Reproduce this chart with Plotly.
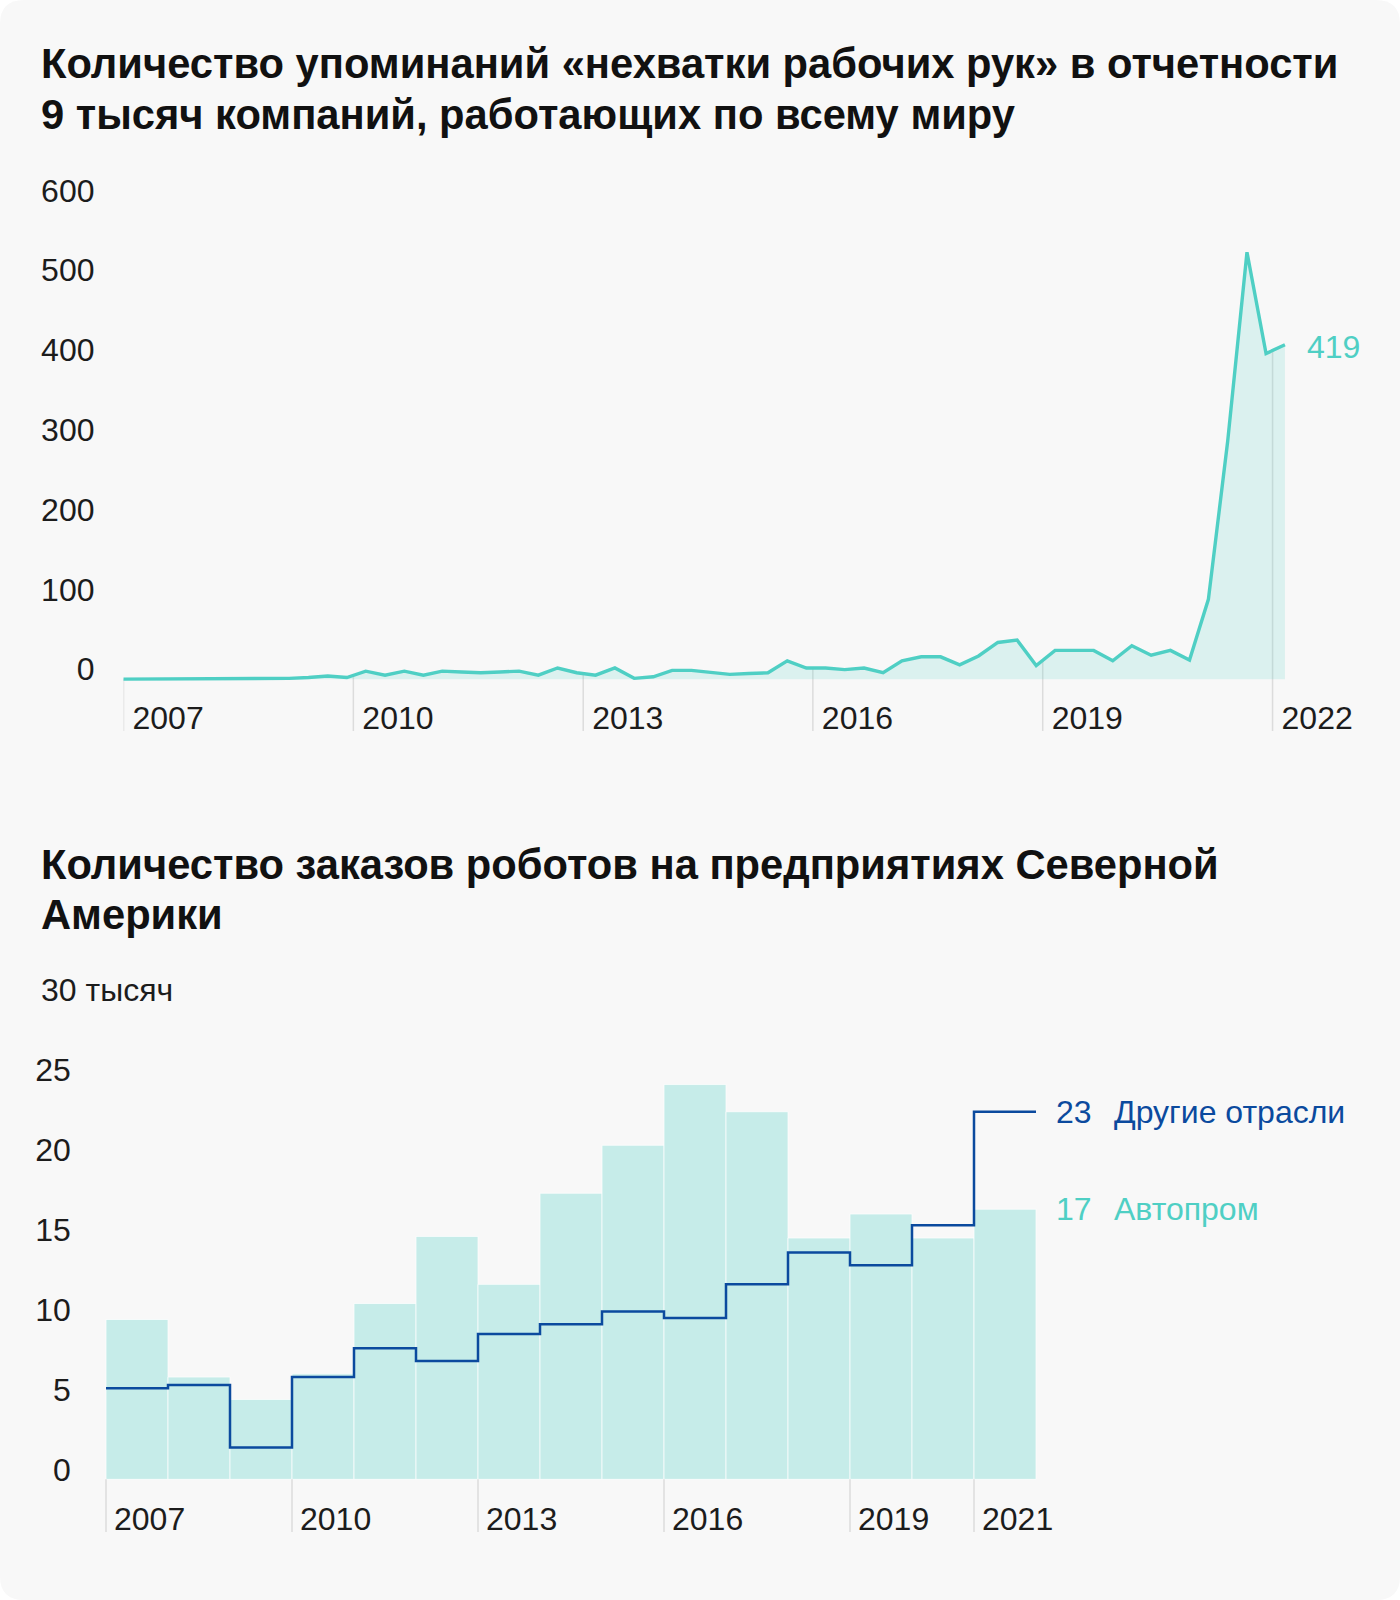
import numpy as np
import pandas as pd
import plotly.graph_objects as go

# ---------------- Data: chart 1 (quarterly mentions) ----------------
q_dates = pd.date_range("2006-12-01", "2022-03-01", freq="3MS")
mentions = [0, 0, 0, 0, 0, 0, 0, 0, 0,
            1, 2, 4, 2, 10, 5, 10, 5, 10, 9, 8, 9, 10, 5, 14, 8, 5, 14, 1, 3,
            11, 11, 9, 6, 7, 8, 23, 14, 14, 12, 14, 8, 23, 28, 28, 18, 29,
            46, 49, 17, 36, 36, 36, 23, 42, 30, 36, 24, 100, 298, 535, 408, 419]
tick_years1 = [2007, 2010, 2013, 2016, 2019, 2022]
yticks1 = [0, 100, 200, 300, 400, 500, 600]

# ---------------- Data: chart 2 (robot orders, thousands) ----------------
years = [2007, 2008, 2009, 2010, 2011, 2012, 2013, 2014, 2015, 2016, 2017, 2018, 2019, 2020, 2021]
auto = [10.0, 6.4, 5.0, 6.6, 11.0, 15.2, 12.2, 17.9, 20.9, 24.7, 23.0, 15.1, 16.6, 15.1, 16.9]
other = [5.7, 5.9, 2.0, 6.4, 8.2, 7.4, 9.1, 9.7, 10.5, 10.1, 12.2, 14.2, 13.4, 15.9, 23.0]
tick_years2 = [2007, 2010, 2013, 2016, 2019, 2021]
yticks2 = [0, 5, 10, 15, 20, 25]

title1 = ["Количество упоминаний «нехватки рабочих рук» в отчетности",
          "9 тысяч компаний, работающих по всему миру"]
title2 = ["Количество заказов роботов на предприятиях Северной", "Америки"]

# ---------------- Style ----------------
W, H = 1400, 1600
BG = "#f8f8f8"
TEAL = "#4fcfc4"
TEAL_FILL = "rgba(79,207,196,0.17)"
BAR = "#c6ece9"
BLUE = "#0b4a9e"
GRID = "#dcdcdc"
TXT = "#1c1c1c"
FONT = "Liberation Sans, Arial, sans-serif"
TICKSIZE = 32

# chart 1: 0.798 px per unit, zero at 679.3 px
YMIN1, YMAX1 = -77.5, 619.2
TICKEND1 = -65          # where the year lines stop below zero
# chart 2: 15.98 px per thousand, zero at 1479.3 px
YMIN2, YMAX2 = -3.92, 30.93
TICKEND2 = -3.3

fig = go.Figure()

# drop lines (chart 1): from line value at each tick year down below the axis
t_num = q_dates.asi8.astype(float)
tick_dates1 = pd.to_datetime([f"{y}-01-01" for y in tick_years1])
vals_at = np.interp(tick_dates1.asi8.astype(float), t_num, mentions)
dx, dy = [], []
for d, v in zip(tick_dates1, vals_at):
    dx += [d, d, None]
    dy += [v, TICKEND1, None]
fig.add_trace(go.Scatter(x=dx, y=dy, mode="lines", line=dict(color=GRID, width=1.5),
                         hoverinfo="skip", showlegend=False, xaxis="x", yaxis="y"))

fig.add_trace(go.Scatter(x=q_dates, y=mentions, mode="lines", fill="tozeroy",
                         fillcolor=TEAL_FILL, line=dict(color=TEAL, width=3.4),
                         showlegend=False, xaxis="x", yaxis="y"))

# chart 2 bars
fig.add_trace(go.Bar(x=years, y=auto, width=1, offset=0,
                     marker=dict(color=BAR, line=dict(color="rgba(255,255,255,0.7)", width=1)),
                     showlegend=False, xaxis="x2", yaxis="y2"))

# tick lines chart 2
tx, ty = [], []
for t in tick_years2:
    tx += [t, t, None]
    ty += [0, TICKEND2, None]
fig.add_trace(go.Scatter(x=tx, y=ty, mode="lines", line=dict(color=GRID, width=1.5),
                         hoverinfo="skip", showlegend=False, xaxis="x2", yaxis="y2"))

# step line
step_x = years + [years[-1] + 1]
step_y = other + [other[-1]]
fig.add_trace(go.Scatter(x=step_x, y=step_y, mode="lines", line=dict(color=BLUE, width=2.5, shape="hv"),
                         showlegend=False, xaxis="x2", yaxis="y2"))

tickfont = dict(family=FONT, size=TICKSIZE, color=TXT)

# pixel geometry
x1_left = 123.5           # px of 2007-01-01
px_per_year1 = 76.6
x1_span = 16.2
x2_zero = 106.0           # px of 2007 on axis 2
px_per_year2 = 62.0
x2_range = [2006.9, 2023.0]

common = dict(showgrid=False, zeroline=False, showline=False, ticks="",
              automargin=False, tickfont=tickfont)

fig.update_layout(
    width=W, height=H,
    margin=dict(l=0, r=0, t=0, b=0, pad=0, autoexpand=False),
    paper_bgcolor="white",
    plot_bgcolor="rgba(0,0,0,0)",
    showlegend=False,
    xaxis=dict(domain=[x1_left / W, (x1_left + x1_span * px_per_year1) / W],
               type="date", range=["2007-01-01", "2023-03-15"],
               tickvals=list(tick_dates1), ticktext=[str(y) for y in tick_years1],
               ticklabelposition="inside right", ticklabelshift=9, anchor="y", **common),
    yaxis=dict(domain=[1 - 741 / H, 1 - 185 / H], range=[YMIN1, YMAX1],
               tickvals=yticks1, ticklabelshift=-10, ticklabelstandoff=28, anchor="x", **common),
    xaxis2=dict(domain=[(x2_zero + (x2_range[0] - 2007) * px_per_year2) / W,
                        (x2_zero + (x2_range[1] - 2007) * px_per_year2) / W],
                range=x2_range,
                tickvals=tick_years2, ticktext=[str(y) for y in tick_years2],
                ticklabelposition="inside right", ticklabelshift=8, anchor="y2", **common),
    yaxis2=dict(domain=[1 - 1542 / H, 1 - 985 / H], range=[YMIN2, YMAX2],
                tickvals=yticks2, ticklabelshift=-10, ticklabelstandoff=28, anchor="x2", **common),
)

# rounded card background
rx, ry = 24 / W, 24 / H
path = (f"M {rx},0 L {1-rx},0 Q 1,0 1,{ry} L 1,{1-ry} Q 1,1 {1-rx},1 "
        f"L {rx},1 Q 0,1 0,{1-ry} L 0,{ry} Q 0,0 {rx},0 Z")
fig.add_shape(type="path", path=path, xref="paper", yref="paper",
              fillcolor=BG, line=dict(width=0), layer="below")

ann = []
tfont = dict(family=FONT, size=41.7, color="#111111", weight="bold")
for txt, yc in zip(title1, [63, 114]):
    ann.append(dict(text=txt, x=39 / W, y=1 - yc / H, xref="paper", yref="paper",
                    xanchor="left", yanchor="middle", showarrow=False, font=tfont))
for txt, yc in zip(title2, [864, 914]):
    ann.append(dict(text=txt, x=39 / W, y=1 - yc / H, xref="paper", yref="paper",
                    xanchor="left", yanchor="middle", showarrow=False, font=tfont))

# last value label chart 1
ann.append(dict(text=str(mentions[-1]), x=q_dates[-1], y=mentions[-1], xref="x", yref="y",
                xanchor="left", yanchor="middle", xshift=20, yshift=-2, showarrow=False,
                font=dict(family=FONT, size=TICKSIZE, color=TEAL)))
# "30 тысяч" top label
ann.append(dict(text="30 тысяч", x=39 / W, y=30, xref="paper", yref="y2",
                xanchor="left", yanchor="middle", yshift=10, showarrow=False,
                font=dict(family=FONT, size=TICKSIZE, color=TXT)))
# series labels chart 2
ann.append(dict(text=f"{round(other[-1])}\u2002\u2009Другие отрасли", x=years[-1] + 1, y=other[-1],
                xref="x2", yref="y2", xanchor="left", yanchor="middle", xshift=18,
                showarrow=False, font=dict(family=FONT, size=TICKSIZE, color=BLUE)))
ann.append(dict(text=f"{round(auto[-1])}\u2002\u2009Автопром", x=years[-1] + 1, y=auto[-1],
                xref="x2", yref="y2", xanchor="left", yanchor="middle", xshift=18,
                showarrow=False, font=dict(family=FONT, size=TICKSIZE, color=TEAL)))
fig.update_layout(annotations=ann)

fig.write_html(
    "out.html",
    config={"displayModeBar": False, "staticPlot": True},
    post_script=("document.documentElement.style.margin='0px';"
                 "document.body.style.margin='0px';"
                 "document.body.style.padding='0px';"
                 "document.body.style.overflow='hidden';"
                 "document.documentElement.style.overflow='hidden';"),
)
